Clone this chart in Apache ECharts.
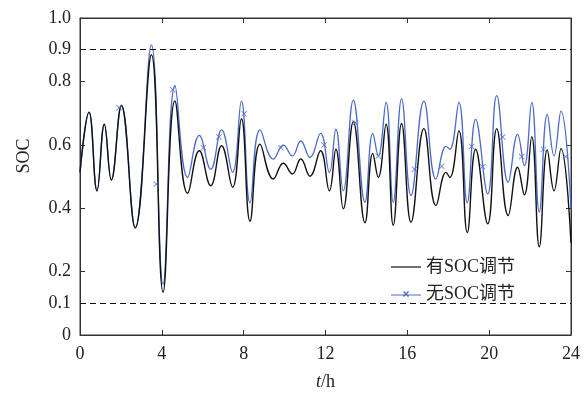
<!DOCTYPE html>
<html>
<head>
<meta charset="utf-8">
<script src="https://cdn.jsdelivr.net/npm/echarts@6/dist/echarts.min.js"></script>
<style>
  html, body { margin: 0; padding: 0; background: #fff; }
  #chart { width: 587px; height: 396px; }
</style>
</head>
<body>
<div id="chart"></div>
<script>
// time points (h) at the turning points of the curves
const hours = [0.00, 0.44, 0.83, 1.19, 1.53, 2.02, 2.70, 3.49, 4.06, 4.64, 5.26, 5.83, 6.39, 6.92, 7.46, 7.89,
  8.31, 8.80, 9.45, 9.94, 10.38, 10.79, 11.24, 11.76, 12.19, 12.51, 12.87, 13.36, 13.93, 14.31, 14.58, 14.96,
  15.31, 15.72, 16.18, 16.81, 17.40, 17.89, 18.08, 18.52, 18.93, 19.34, 19.93, 20.37, 20.93, 21.39, 21.72,
  22.08, 22.45, 22.84, 23.17, 23.51, 24.00];
// 无SOC调节
const socFree = [0.513, 0.703, 0.455, 0.665, 0.489, 0.724, 0.338, 0.915, 0.160, 0.787, 0.497, 0.630, 0.523, 0.647, 0.513, 0.738,
  0.417, 0.647, 0.555, 0.599, 0.565, 0.612, 0.560, 0.636, 0.513, 0.649, 0.455, 0.741, 0.419, 0.636, 0.565, 0.734,
  0.419, 0.745, 0.440, 0.738, 0.492, 0.595, 0.586, 0.734, 0.417, 0.680, 0.445, 0.755, 0.482, 0.633, 0.534,
  0.734, 0.388, 0.696, 0.565, 0.706, 0.400];
// 有SOC调节
const socCtrl = [0.513, 0.703, 0.455, 0.665, 0.489, 0.724, 0.338, 0.884, 0.135, 0.738, 0.447, 0.581, 0.471, 0.597, 0.466, 0.682,
  0.359, 0.602, 0.492, 0.542, 0.508, 0.555, 0.501, 0.581, 0.455, 0.586, 0.398, 0.673, 0.354, 0.573, 0.497, 0.665,
  0.346, 0.667, 0.356, 0.651, 0.408, 0.513, 0.497, 0.644, 0.323, 0.586, 0.351, 0.651, 0.377, 0.529, 0.442,
  0.625, 0.278, 0.584, 0.455, 0.588, 0.290];
// x markers drawn on the 无SOC调节 curve
const markHours = [1.91, 3.73, 4.53, 6.03, 6.79, 8.02, 9.82, 11.93, 13.45, 14.58, 16.35, 17.68, 19.14, 19.68, 20.66, 21.59, 22.65, 23.74];
const markSoc = [0.717, 0.476, 0.774, 0.591, 0.625, 0.698, 0.591, 0.599, 0.670, 0.565, 0.523, 0.532, 0.595, 0.531, 0.625, 0.563, 0.586, 0.563];
const yLabels = [0, 0.1, 0.2, 0.4, 0.6, 0.8, 0.9, 1.0];
const yTicks = [0.2, 0.4, 0.6, 0.8];
const xTicks = [4, 8, 12, 16, 20];
const limits = [0.9, 0.1];

const serif = '"Liberation Serif", "Noto Sans CJK SC", serif';
const blue = '#4a6bc8';
const axisColor = '#333';
const crossPath = 'path://M0,1L1,0L5,4L9,0L10,1L6,5L10,9L9,10L5,6L1,10L0,9L4,5Z';
const lineIcon = 'path://M0,6.4L30,6.4L30,7.6L0,7.6Z';
const crossLineIcon = 'path://M0,6.4L30,6.4L30,7.6L0,7.6ZM12,4L13,3L15,5L17,3L18,4L16,6L18,8L17,9L15,7L13,9L12,8L14,6Z';

const chart = echarts.init(document.getElementById('chart'));

function frameAxis(extra) {
  return Object.assign({
    type: 'value',
    show: true,
    axisLine: { show: true, onZero: false, lineStyle: { color: axisColor, width: 1 } },
    axisTick: { show: true, inside: true, length: 5, lineStyle: { color: axisColor, width: 1 } },
    splitLine: { show: false }
  }, extra);
}

chart.setOption({
  animation: false,
  grid: { left: 80, right: 16, top: 18, bottom: 59, show: true, borderColor: axisColor, borderWidth: 1, backgroundColor: 'transparent' },
  legend: {
    orient: 'vertical',
    left: 386,
    top: 253,
    itemWidth: 30,
    itemHeight: 14,
    itemGap: 9,
    textStyle: { fontFamily: serif, fontSize: 18, color: '#222' },
    data: [{ name: '有SOC调节', icon: lineIcon, itemStyle: { color: '#111' } },
           { name: '无SOC调节', icon: crossLineIcon, itemStyle: { color: blue } }]
  },
  graphic: [{
    type: 'text',
    x: 24,
    y: 156,
    rotation: Math.PI / 2,
    style: { text: 'SOC', font: '18px "Liberation Serif"', fill: '#222', align: 'center', verticalAlign: 'middle' }
  }],
  xAxis: [frameAxis({
    min: 0, max: 24, interval: 4,
    axisLabel: { fontFamily: serif, fontSize: 18, color: '#222', margin: 10 },
    name: '{i|t}/h', nameLocation: 'middle', nameGap: 38,
    nameTextStyle: { fontFamily: serif, fontSize: 18, color: '#222', rich: { i: { fontStyle: 'italic', fontFamily: serif, fontSize: 18 } } }
  }), frameAxis({
    position: 'top', min: 0, max: 24, interval: 4,
    axisLabel: { show: false }
  })],
  yAxis: [frameAxis({
    min: 0, max: 1, interval: 0.1,
    axisLabel: {
      fontFamily: serif, fontSize: 18, color: '#222', margin: 9,
      customValues: yLabels,
      formatter: v => (v === 0 ? '0' : v.toFixed(1))
    }
  }), frameAxis({
    position: 'right', min: 0, max: 1, interval: 0.1,
    axisLabel: { show: false }
  })],
  series: [{
    name: '有SOC调节',
    type: 'line',
    data: hours.map((t, i) => [t, socCtrl[i]]),
    smooth: 0.45,
    symbol: 'none',
    lineStyle: { color: '#111', width: 1.4 },
    itemStyle: { color: '#111' },
    z: 3,
    markLine: {
      silent: true,
      symbol: 'none',
      label: { show: false },
      lineStyle: { color: '#111', width: 1, type: [6, 4] },
      data: limits.map(v => ({ yAxis: v }))
    }
  }, {
    name: '无SOC调节',
    type: 'line',
    data: hours.map((t, i) => [t, socFree[i]]),
    smooth: 0.45,
    symbol: 'none',
    lineStyle: { color: blue, width: 1.3 },
    itemStyle: { color: blue },
    z: 2
  }, {
    name: '无SOC调节',
    type: 'scatter',
    xAxisIndex: 1,
    yAxisIndex: 1,
    data: markHours.map((t, i) => [t, markSoc[i]]),
    symbol: crossPath,
    symbolSize: 6,
    itemStyle: { color: blue },
    z: 4
  }]
});

// tick marks on the y axes only at 0.2 steps (labels keep 0.1 and 0.9)
chart.setOption({
  yAxis: [{ axisTick: { customValues: yTicks } }, { axisTick: { customValues: yTicks } }],
  xAxis: [{ axisTick: { customValues: xTicks } }, { axisTick: { customValues: xTicks } }]
});
</script>
</body>
</html>
